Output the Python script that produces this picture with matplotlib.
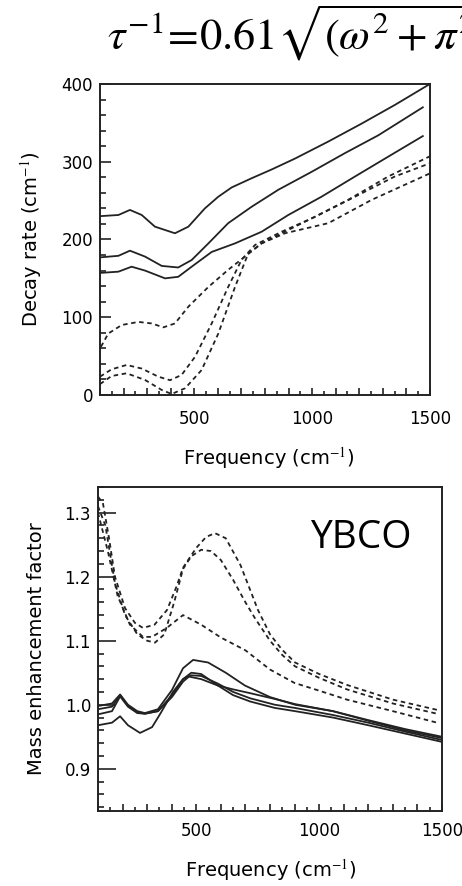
import numpy as np
import matplotlib.pyplot as plt
from matplotlib.ticker import MultipleLocator, FuncFormatter

plt.rcParams['font.family'] = ['DejaVu Sans']
plt.rcParams['mathtext.fontset'] = 'stix'

# ---- top panel: decay rate (cm^-1) ----
sA_x = [100, 178, 227, 277, 333, 418, 475, 545, 602, 659, 743, 828, 927, 1069, 1210, 1351, 1500]
sA_y = [230, 231.5, 238, 231.5, 216.5, 208, 216.5, 240, 255, 267, 278.7, 290, 304, 326, 349, 373, 400]
sB_x = [100, 178, 227, 291, 362, 432, 489, 560, 644, 743, 857, 998, 1139, 1281, 1470]
sB_y = [177, 179, 185.6, 178, 166, 164, 173.6, 195, 221, 242, 264, 287, 311, 334, 370]
sC_x = [100, 178, 234, 291, 376, 432, 489, 574, 673, 786, 899, 1040, 1182, 1323, 1470]
sC_y = [157, 158.6, 165, 160, 150, 152, 165, 184, 195, 210, 231.5, 255, 281, 306.5, 333]
dA_x = [104, 135, 192, 263, 319, 369, 418, 475, 560, 644, 715, 786, 871, 984, 1153, 1323, 1500]
dA_y = [62, 79, 90, 94, 92, 87, 92, 113.6, 139, 161, 178, 195, 208, 225, 251, 281, 307]
dB_x = [100, 149, 213, 277, 347, 397, 446, 503, 574, 644, 701, 758, 871, 1012, 1182, 1351, 1500]
dB_y = [23.6, 33, 38.6, 34, 23.6, 19, 25.7, 49, 92, 139, 174, 193, 210, 229, 255, 281, 298]
dC_x = [100, 149, 213, 291, 362, 404, 461, 531, 602, 673, 729, 786, 885, 1069, 1253, 1500]
dC_y = [14, 24.4, 27.9, 19.3, 6.4, 1.3, 8.6, 32, 79, 139, 182, 195, 208, 221, 251, 285]

# ---- bottom panel: mass enhancement factor ----
mA_x = [100, 157, 190, 222, 260, 291, 344, 401, 446, 487, 548, 620, 698, 800, 902, 1056, 1200, 1350, 1500]
mA_y = [0.998, 1.002, 1.016, 1.0, 0.99, 0.987, 0.993, 1.023, 1.057, 1.070, 1.066, 1.050, 1.030, 1.012, 1.0, 0.99, 0.975, 0.960, 0.948]
mB_x = [100, 157, 190, 222, 260, 291, 344, 401, 446, 480, 520, 588, 650, 720, 820, 902, 1056, 1200, 1350, 1500]
mB_y = [0.993, 0.997, 1.015, 0.998, 0.988, 0.986, 0.99, 1.015, 1.04, 1.05, 1.048, 1.03, 1.015, 1.005, 0.995, 0.99, 0.98, 0.968, 0.955, 0.942]
mC_x = [100, 157, 190, 222, 260, 291, 344, 401, 446, 470, 520, 588, 650, 720, 820, 902, 1056, 1200, 1350, 1500]
mC_y = [0.985, 0.99, 1.013, 0.997, 0.987, 0.986, 0.99, 1.012, 1.036, 1.044, 1.040, 1.030, 1.024, 1.018, 1.009, 1.001, 0.99, 0.976, 0.962, 0.95]
mD_x = [100, 157, 190, 222, 271, 320, 352, 405, 446, 480, 520, 588, 650, 720, 820, 902, 1056, 1200, 1350, 1500]
mD_y = [0.968, 0.972, 0.982, 0.968, 0.956, 0.965, 0.985, 1.02, 1.04, 1.046, 1.045, 1.033, 1.02, 1.01, 1.0, 0.995, 0.984, 0.972, 0.958, 0.945]
eA_x = [100, 120, 145, 169, 210, 250, 283, 330, 381, 420, 446, 500, 540, 576, 620, 680, 751, 800, 849, 902, 1000, 1113, 1300, 1480]
eA_y = [1.325, 1.315, 1.26, 1.20, 1.151, 1.128, 1.12, 1.125, 1.148, 1.185, 1.214, 1.245, 1.262, 1.268, 1.26, 1.218, 1.148, 1.11, 1.086, 1.066, 1.048, 1.031, 1.008, 0.992]
eB_x = [100, 130, 169, 210, 260, 300, 332, 370, 410, 446, 480, 520, 560, 600, 650, 700, 739, 800, 849, 902, 1000, 1113, 1300, 1480]
eB_y = [1.31, 1.28, 1.19, 1.14, 1.11, 1.10, 1.097, 1.11, 1.16, 1.212, 1.232, 1.242, 1.240, 1.226, 1.195, 1.16, 1.135, 1.10, 1.078, 1.06, 1.042, 1.024, 1.002, 0.986]
eC_x = [100, 140, 180, 230, 283, 320, 380, 446, 520, 600, 700, 800, 900, 1000, 1113, 1300, 1480]
eC_y = [1.30, 1.24, 1.17, 1.125, 1.106, 1.106, 1.12, 1.140, 1.125, 1.105, 1.085, 1.055, 1.034, 1.022, 1.008, 0.99, 0.972]

fig = plt.figure(figsize=(4.62, 8.86), dpi=100)

ink = '#222222'
dash = (0, (2.5, 2))

ax1 = fig.add_axes([0.2165, 0.5542, 0.714, 0.351])
for x, y in [(sA_x, sA_y), (sB_x, sB_y), (sC_x, sC_y)]:
    ax1.plot(x, y, color=ink, lw=1.3)
for x, y in [(dA_x, dA_y), (dB_x, dB_y), (dC_x, dC_y)]:
    ax1.plot(x, y, color=ink, lw=1.3, linestyle=dash)
ax1.set_xlim(100, 1500)
ax1.set_ylim(0, 400)
ax1.yaxis.set_major_locator(MultipleLocator(100))
ax1.yaxis.set_minor_locator(MultipleLocator(20))

ax2 = fig.add_axes([0.2121, 0.0846, 0.7446, 0.3657])
for x, y in [(mA_x, mA_y), (mB_x, mB_y), (mC_x, mC_y), (mD_x, mD_y)]:
    ax2.plot(x, y, color=ink, lw=1.3)
for x, y in [(eA_x, eA_y), (eB_x, eB_y), (eC_x, eC_y)]:
    ax2.plot(x, y, color=ink, lw=1.3, linestyle=dash)
ax2.set_xlim(100, 1500)
ax2.set_ylim(0.834, 1.34)
ax2.yaxis.set_major_locator(MultipleLocator(0.1))
ax2.yaxis.set_minor_locator(MultipleLocator(0.02))
ax2.yaxis.set_major_formatter(FuncFormatter(lambda v, p: f'{v:.1f}'))

for ax in (ax1, ax2):
    ax.xaxis.set_major_locator(MultipleLocator(100))
    ax.xaxis.set_minor_locator(MultipleLocator(50))
    ax.xaxis.set_major_formatter(FuncFormatter(lambda v, p: f'{v:.0f}' if round(v) % 500 == 0 else ''))
    ax.tick_params(which='both', direction='in', top=False, right=False, labelsize=12, width=1.2, color=ink)
    ax.tick_params(axis='x', which='major', length=5)
    ax.tick_params(axis='x', which='minor', length=3)
    ax.tick_params(axis='y', which='minor', length=4)
    for s in ax.spines.values():
        s.set_linewidth(1.4)
        s.set_color(ink)

ax1.tick_params(axis='x', which='major', pad=11)
ax2.tick_params(axis='x', which='major', pad=8)
ax1.tick_params(axis='y', which='major', length=8, pad=5)
ax2.tick_params(axis='y', which='major', length=13, pad=5)

ax1.set_xlabel('Frequency (cm$^{-1}$)', fontsize=14)
ax1.xaxis.set_label_coords(0.512, -0.16)
ax1.set_ylabel('Decay rate (cm$^{-1}$)', fontsize=14)
ax1.yaxis.set_label_coords(-0.17, 0.5)

ax2.set_xlabel('Frequency (cm$^{-1}$)', fontsize=14)
ax2.xaxis.set_label_coords(0.503, -0.142)
ax2.set_ylabel('Mass enhancement factor', fontsize=14)
ax2.yaxis.set_label_coords(-0.15, 0.5)

fig.text(0.671, 0.3815, 'YBCO', fontsize=28, family='Open Sans', va='baseline', ha='left')
# the formula runs past the right edge, as in the source figure
fig.text(0.2316, 0.9436, r'$\tau^{-1}\!=\!0.61\sqrt{(\omega^2+\pi^2 T^2)}$', fontsize=32,
         va='baseline', ha='left', color='black')

fig.savefig('out.png', dpi=100)
plt.close(fig)
